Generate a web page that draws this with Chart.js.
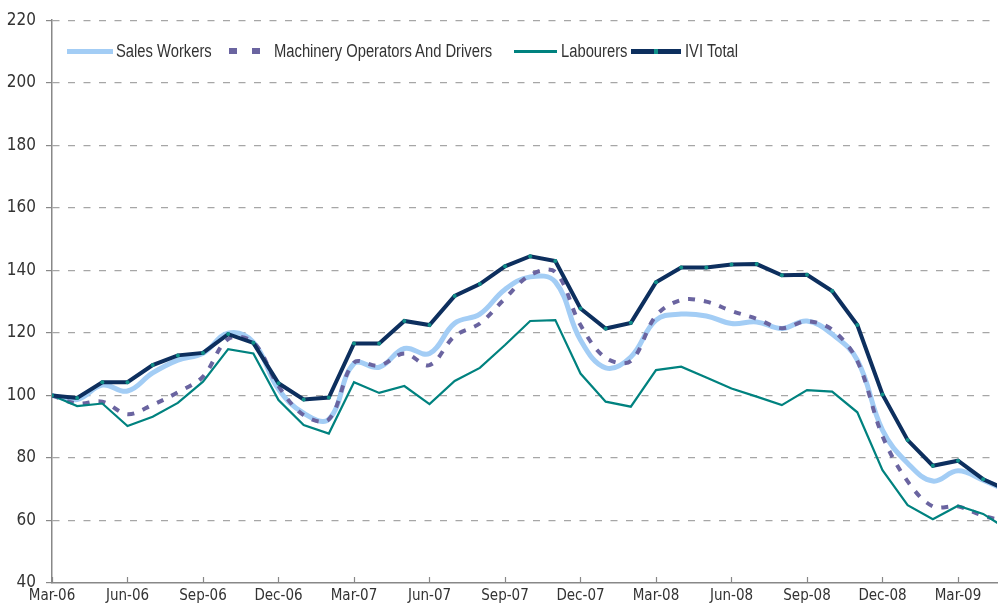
<!DOCTYPE html>
<html>
<head>
<meta charset="utf-8">
<script src="https://cdn.jsdelivr.net/npm/chart.js@4.4.1/dist/chart.umd.min.js"></script>
<style>
  body { margin: 0; background: #fff; overflow: hidden; }
  .wrap { position: relative; width: 1001px; height: 612px; }
  .legend { position: absolute; top: 40px; left: 0; height: 22px; font: 18px 'Liberation Sans', Arial, sans-serif; color: #333; }
  .legend span { position: absolute; top: 0; white-space: nowrap; line-height: 22px; transform: scaleX(0.82); transform-origin: 0 50%; }
  .legend i { position: absolute; display: block; }
</style>
</head>
<body>
<div class="wrap">
  <canvas id="chart" width="1001" height="612"></canvas>
  <div class="legend">
    <i style="left:67px;top:9px;width:46px;height:5px;background:#a3cdf5;"></i>
    <span style="left:116px;">Sales Workers</span>
    <i style="left:229px;top:8px;width:8px;height:6px;background:#6a64a0;"></i>
    <i style="left:252px;top:8px;width:8px;height:6px;background:#6a64a0;"></i>
    <span style="left:274px;">Machinery Operators And Drivers</span>
    <i style="left:514px;top:10px;width:43px;height:3px;background:#00827f;"></i>
    <span style="left:561px;">Labourers</span>
    <i style="left:631px;top:9px;width:50px;height:5px;background:#0d2f5e;"></i>
    <i style="left:654px;top:9px;width:4px;height:5px;background:#11918a;"></i>
    <span style="left:685px;">IVI Total</span>
  </div>
</div>
<script>
const months = [
  'Mar-06', 'Apr-06', 'May-06', 'Jun-06', 'Jul-06', 'Aug-06', 'Sep-06', 'Oct-06', 'Nov-06', 'Dec-06',
  'Jan-07', 'Feb-07', 'Mar-07', 'Apr-07', 'May-07', 'Jun-07', 'Jul-07', 'Aug-07', 'Sep-07', 'Oct-07',
  'Nov-07', 'Dec-07', 'Jan-08', 'Feb-08', 'Mar-08', 'Apr-08', 'May-08', 'Jun-08', 'Jul-08', 'Aug-08',
  'Sep-08', 'Oct-08', 'Nov-08', 'Dec-08', 'Jan-09', 'Feb-09', 'Mar-09', 'Apr-09', 'May-09'
];
const xTickIdx = [0, 3, 6, 9, 12, 15, 18, 21, 24, 27, 30, 33, 36];
const yTicks = [40, 60, 80, 100, 120, 140, 160, 180, 200, 220];

const salesWorkers = [
  100, 98.7, 103.3, 101.4, 107.2, 111.3, 113.5, 119.9, 117, 102,
  94.3, 92.4, 110.2, 109, 115, 113.4, 123.1, 126, 133.9, 137.9,
  136.3, 117.7, 108.8, 112.3, 124.1, 126, 125.4, 123, 123.5, 121.4,
  123.8, 119.6, 111.3, 88.9, 78.3, 72.6, 75.9, 72.9, 69.3
];
const machineryOperators = [
  100, 97.4, 98, 94, 97, 101, 106, 118, 117, 103,
  93.7, 92.3, 110.5, 109.5, 113.4, 109.7, 119, 123, 131, 138.5,
  139.5, 122.5, 112, 111, 125.5, 130.5, 130, 127, 124.5, 121.5,
  123.7, 121, 111, 87, 72.5, 64.5, 64.5, 61.5, 59.5
];
const labourers = [
  100, 96.6, 97.4, 90.2, 93.2, 97.6, 104.4, 114.8, 113.4, 98.5,
  90.5, 87.8, 104.2, 100.8, 103, 97.2, 104.6, 108.8, 116.1, 123.8,
  124.1, 107, 98, 96.4, 108.1, 109.2, 105.7, 102.2, 99.6, 96.9,
  101.7, 101.2, 94.6, 76.1, 64.9, 60.4, 64.7, 62.1, 57
];
const iviTotal = [
  100, 99.2, 104.2, 104.2, 109.7, 112.8, 113.6, 119.6, 116.8, 103.9,
  98.7, 99.3, 116.6, 116.6, 123.8, 122.5, 131.8, 135.6, 141.3, 144.5,
  143, 127.8, 121.4, 123.2, 136.2, 140.9, 140.9, 141.9, 142, 138.4,
  138.6, 133.4, 122.5, 100.3, 85.7, 77.5, 79.1, 73.2, 69.5
];

const toPoints = (arr) => arr.map((v, i) => ({x: i, y: v}));
const axisFont = `'DejaVu Sans Condensed', 'Liberation Sans', Arial, sans-serif`;

// small inward tick marks on the x axis
const innerTicks = {
  id: 'innerTicks',
  afterDatasetsDraw(chart) {
    const {ctx, scales: {x}, chartArea} = chart;
    ctx.save();
    ctx.strokeStyle = '#888';
    ctx.lineWidth = 1.2;
    xTickIdx.forEach((v) => {
      const px = Math.round(x.getPixelForValue(v)) + 0.5;
      ctx.beginPath();
      ctx.moveTo(px, chartArea.bottom);
      ctx.lineTo(px, chartArea.bottom - 6);
      ctx.stroke();
    });
    ctx.restore();
  }
};

new Chart(document.getElementById('chart'), {
  type: 'line',
  data: {
    datasets: [{
      label: 'Sales Workers',
      data: toPoints(salesWorkers),
      borderColor: '#a3cdf5',
      borderWidth: 5,
      tension: 0.4,
      pointRadius: 0,
      order: 3
    }, {
      label: 'Machinery Operators And Drivers',
      data: toPoints(machineryOperators),
      borderColor: '#6a64a0',
      borderWidth: 4,
      borderDash: [7, 9],
      tension: 0.35,
      pointRadius: 0,
      order: 2
    }, {
      label: 'Labourers',
      data: toPoints(labourers),
      borderColor: '#00827f',
      borderWidth: 2.2,
      tension: 0,
      pointRadius: 0,
      order: 1
    }, {
      label: 'IVI Total',
      data: toPoints(iviTotal),
      borderColor: '#0d2f5e',
      borderWidth: 4,
      tension: 0,
      pointRadius: 2,
      pointBorderWidth: 0,
      pointBackgroundColor: '#11918a',
      order: 0
    }]
  },
  options: {
    responsive: false,
    animation: false,
    layout: {padding: {top: 20, right: 0, left: 0, bottom: 0}},
    plugins: {legend: {display: false}, tooltip: {enabled: false}},
    scales: {
      x: {
        type: 'linear',
        min: 0,
        max: 37.55,
        afterBuildTicks: (scale) => {
          scale.ticks = xTickIdx.map((v) => ({value: v}));
        },
        afterFit: (scale) => {
          scale.height = 29;
        },
        grid: {display: true, drawOnChartArea: false, drawTicks: false},
        border: {display: true, color: '#888', width: 1.5},
        ticks: {
          autoSkip: false,
          maxRotation: 0,
          padding: 4,
          color: '#333',
          font: {family: axisFont, size: 15},
          callback: (v) => months[v]
        }
      },
      y: {
        min: 40,
        max: 220,
        afterBuildTicks: (scale) => {
          scale.ticks = yTicks.map((v) => ({value: v}));
        },
        afterFit: (scale) => {
          scale.width = 52;
        },
        grid: {
          color: (c) => (c.tick && c.tick.value === 40 ? 'rgba(0,0,0,0)' : '#a6a6a6'),
          lineWidth: 1.2,
          tickLength: 6,
          tickColor: '#888',
          tickBorderDash: [],
          tickWidth: 1.2
        },
        border: {display: true, color: '#888', width: 1.5, dash: [7, 8.5]},
        ticks: {
          padding: 10,
          color: '#333',
          font: {family: axisFont, size: 17}
        }
      }
    }
  },
  plugins: [innerTicks]
});
</script>
</body>
</html>
